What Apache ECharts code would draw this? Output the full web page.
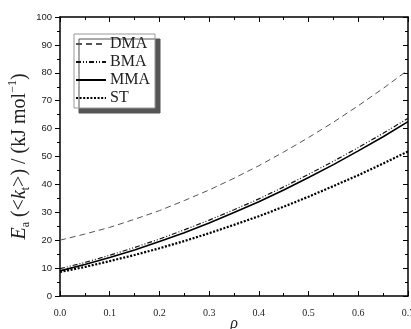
<!DOCTYPE html>
<html>
<head>
<meta charset="utf-8">
<script src="https://cdn.jsdelivr.net/npm/echarts@6/dist/echarts.min.js"></script>
<style>
  html, body { margin: 0; padding: 0; background: #fff; }
  #chart { width: 411px; height: 329px; }
</style>
</head>
<body>
<div id="chart"></div>
<script>
// rho values (x axis)
const rho = [0, 0.05, 0.1, 0.15, 0.2, 0.25, 0.3, 0.35, 0.4, 0.45, 0.5, 0.55, 0.6, 0.65, 0.7];
// Ea values, kJ/mol
const dma = [20.0, 22.2, 24.6, 27.5, 30.6, 34.2, 38.0, 42.2, 46.7, 51.6, 56.8, 62.3, 68.2, 74.4, 81.0];
const bma = [9.8, 12.0, 14.6, 17.4, 20.4, 23.7, 27.2, 30.9, 34.8, 39.1, 43.6, 48.3, 53.2, 58.3, 63.7];
const mma = [9.0, 11.3, 13.8, 16.5, 19.5, 22.7, 26.2, 29.9, 33.8, 38.0, 42.5, 47.1, 52.0, 57.1, 62.5];
const st  = [8.6, 10.4, 12.5, 14.7, 17.1, 19.7, 22.5, 25.5, 28.6, 32.0, 35.6, 39.4, 43.3, 47.5, 51.8];
const seriesNames = ["DMA", "BMA", "MMA", "ST"];

const chart = echarts.init(document.getElementById("chart"));

function pairs(ys) {
  return rho.map((x, i) => [x, ys[i]]);
}

const serif = "'Liberation Serif', 'DejaVu Serif', serif";
const sans = "'Liberation Sans', Arial, sans-serif";

const styles = {
  DMA: { color: "#555", width: 1, type: [6, 4] },
  BMA: { color: "#111", width: 1.2, type: [5, 2, 1, 2, 1, 2] },
  MMA: { color: "#000", width: 1.6, type: "solid" },
  ST:  { color: "#000", width: 2.2, type: [2, 1.6] }
};
const dataByName = { DMA: dma, BMA: bma, MMA: mma, ST: st };

const option = {
  animation: false,
  grid: { left: 60, right: 3, top: 17, bottom: 33, outerBoundsMode: "none", containLabel: false },
  legend: {
    orient: "vertical",
    left: 74, top: 34,
    data: seriesNames,
    itemWidth: 30, itemHeight: 14, itemGap: 2,
    padding: [2, 5, 2, 1],
    backgroundColor: "#fff",
    borderColor: "#999", borderWidth: 1,
    shadowColor: "#555", shadowBlur: 0.01, shadowOffsetX: 5, shadowOffsetY: 5,
    itemStyle: { opacity: 0 },
    textStyle: { fontFamily: serif, fontSize: 16, lineHeight: 16, color: "#222", padding: [0, 0, 0, -1] }
  },
  xAxis: [{
    type: "value", min: 0, max: 0.7, interval: 0.1,
    name: "ρ", nameLocation: "middle", nameGap: 20, nameMoveOverlap: false,
    nameTextStyle: { fontFamily: serif, fontStyle: "italic", fontSize: 16, color: "#222" },
    axisLine: { onZero: false, lineStyle: { color: "#000", width: 1.5 } },
    axisTick: { inside: true, length: 5, lineStyle: { color: "#000" } },
    minorTick: { show: true, splitNumber: 2, length: 3, lineStyle: { color: "#000" } },
    splitLine: { show: false },
    axisLabel: { fontFamily: serif, fontSize: 10, color: "#222", margin: 12,
      formatter: v => v.toFixed(1) }
  }, {
    type: "value", min: 0, max: 0.7, interval: 0.1, position: "top",
    axisLine: { onZero: false, lineStyle: { color: "#000", width: 1.5 } },
    axisTick: { inside: true, length: 5, lineStyle: { color: "#000" } },
    minorTick: { show: true, splitNumber: 2, length: 3, lineStyle: { color: "#000" } },
    splitLine: { show: false },
    axisLabel: { show: false }
  }],
  yAxis: [{
    type: "value", min: 0, max: 100, interval: 10,
    name: "{i|E}{sub|a} ({n|<}{i|k}{sub|t}{n|>}) / (kJ mol{sup|−1})",
    nameLocation: "middle", nameGap: 28, nameRotate: 90, nameMoveOverlap: false,
    nameTextStyle: {
      fontFamily: serif, fontSize: 20, color: "#222",
      rich: {
        i: { fontFamily: serif, fontStyle: "italic", fontSize: 20, lineHeight: 25, color: "#222" },
        n: { fontFamily: serif, fontSize: 20, lineHeight: 25, color: "#222" },
        sub: { fontFamily: serif, fontSize: 12, lineHeight: 25, verticalAlign: "bottom", color: "#222" },
        sup: { fontFamily: serif, fontSize: 12, lineHeight: 25, verticalAlign: "top", color: "#222" }
      }
    },
    axisLine: { onZero: false, lineStyle: { color: "#000", width: 1.5 } },
    axisTick: { inside: false, length: 5, lineStyle: { color: "#000" } },
    minorTick: { show: true, splitNumber: 2, length: 3, lineStyle: { color: "#000" } },
    splitLine: { show: false },
    axisLabel: { fontFamily: sans, fontSize: 9.5, color: "#222", margin: 8 }
  }, {
    type: "value", min: 0, max: 100, interval: 10, position: "right",
    axisLine: { onZero: false, lineStyle: { color: "#000", width: 1.5 } },
    axisTick: { inside: true, length: 5, lineStyle: { color: "#000" } },
    minorTick: { show: true, splitNumber: 2, length: 3, lineStyle: { color: "#000" } },
    splitLine: { show: false },
    axisLabel: { show: false }
  }],
  series: seriesNames.map(name => ({
    name: name,
    type: "line",
    smooth: false,
    symbol: "none",
    data: pairs(dataByName[name]),
    itemStyle: { color: styles[name].color },
    lineStyle: styles[name]
  }))
};

chart.setOption(option);
window.addEventListener("resize", () => chart.resize());
</script>
</body>
</html>
